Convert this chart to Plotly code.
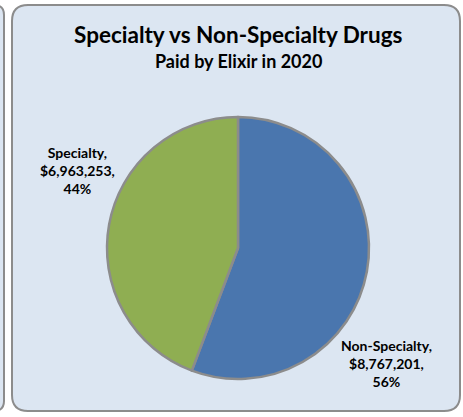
import plotly.graph_objects as go

labels = ["Non-Specialty", "Specialty"]
values = [8767201, 6963253]
colors = ["#4a76ae", "#8fae52"]

W, H = 463, 417


def px_x(x):
    return x / W


def px_y(y):
    return 1 - y / H


def rounded_rect(x0, y0, x1, y1, r):
    # pixel coords -> paper path with rounded corners
    rx, ry = r / W, r / H
    a, b, c, d = px_x(x0), px_y(y1), px_x(x1), px_y(y0)
    return (f"M {a+rx},{b} L {c-rx},{b} Q {c},{b} {c},{b+ry} "
            f"L {c},{d-ry} Q {c},{d} {c-rx},{d} L {a+rx},{d} "
            f"Q {a},{d} {a},{d-ry} L {a},{b+ry} Q {a},{b} {a+rx},{b} Z")


total = sum(values)
label_text = [f"{l},<br>${v:,},<br>{round(100 * v / total)}%" for l, v in zip(labels, values)]

fig = go.Figure(go.Pie(
    labels=labels,
    values=values,
    sort=False,
    direction="clockwise",
    rotation=0,
    marker=dict(colors=colors, line=dict(color="#8c8c8c", width=2.5)),
    textinfo="none",
    hoverinfo="label+value+percent",
    domain=dict(x=[px_x(107), px_x(369)], y=[px_y(380), px_y(116)]),
    showlegend=False,
))

shapes = [
    dict(type="path", xref="paper", yref="paper",
         path=rounded_rect(12, 5, 460, 411, 16),
         fillcolor="#dce6f2", line=dict(color="#8c8c8c", width=2), layer="below"),
    dict(type="path", xref="paper", yref="paper",
         path=rounded_rect(-60, 5, 4, 411, 10),
         fillcolor="#dce6f2", line=dict(color="#8c8c8c", width=2), layer="below"),
]

font_family = "Lato, 'Open Sans', sans-serif"


def note(text, x, y, size):
    return dict(text=text, x=px_x(x), y=px_y(y), xref="paper", yref="paper",
                xanchor="center", yanchor="middle", showarrow=False,
                font=dict(size=size, color="#000000", family=font_family))


annotations = [
    note("<b>Specialty vs Non-Specialty Drugs</b>", 238, 34, 22.5),
    note("<b>Paid by Elixir in 2020</b>", 238, 61, 18),
    note(f"<b>{label_text[1]}</b>", 77, 170, 14),
    note(f"<b>{label_text[0]}</b>", 386, 363, 14),
]

fig.update_layout(
    width=W, height=H,
    margin=dict(l=0, r=0, t=0, b=0),
    paper_bgcolor="white",
    plot_bgcolor="white",
    shapes=shapes,
    annotations=annotations,
    font=dict(family=font_family),
)

fig.write_html("out.html", config={"displayModeBar": False},
               post_script="document.body.style.margin='0px';")
